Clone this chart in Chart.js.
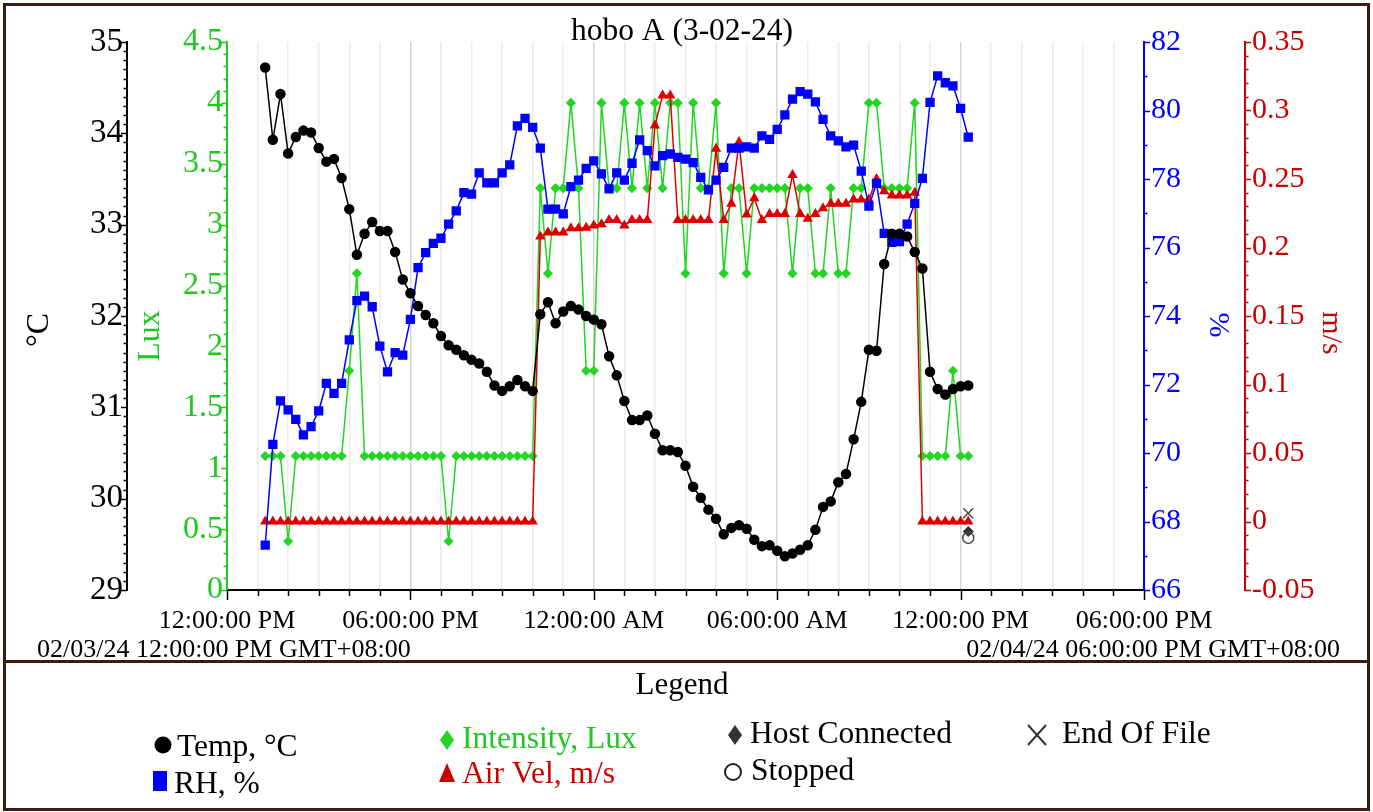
<!DOCTYPE html>
<html>
<head>
<meta charset="utf-8">
<title>hobo A (3-02-24)</title>
<script src="https://cdn.jsdelivr.net/npm/chart.js@4.4.1/dist/chart.umd.min.js"></script>
<style>
  html, body { margin: 0; padding: 0; background: #fff; }
  canvas { display: block; }
</style>
</head>
<body>
<canvas id="hoboChart" width="1373" height="812"></canvas>
<script>
// logger readings, 15 min interval, 02/03/24 13:15 -> 02/04/24 12:15
const times = [
  '13:15','13:30','13:45','14:00','14:15','14:30','14:45','15:00','15:15','15:30','15:45','16:00',
  '16:15','16:30','16:45','17:00','17:15','17:30','17:45','18:00','18:15','18:30','18:45','19:00',
  '19:15','19:30','19:45','20:00','20:15','20:30','20:45','21:00','21:15','21:30','21:45','22:00',
  '22:15','22:30','22:45','23:00','23:15','23:30','23:45','00:00','00:15','00:30','00:45','01:00',
  '01:15','01:30','01:45','02:00','02:15','02:30','02:45','03:00','03:15','03:30','03:45','04:00',
  '04:15','04:30','04:45','05:00','05:15','05:30','05:45','06:00','06:15','06:30','06:45','07:00',
  '07:15','07:30','07:45','08:00','08:15','08:30','08:45','09:00','09:15','09:30','09:45','10:00',
  '10:15','10:30','10:45','11:00','11:15','11:30','11:45','12:00','12:15'
];

const temp = [
  34.72, 33.93, 34.43, 33.78, 33.96, 34.03, 34.01, 33.84, 33.69, 33.72, 33.51, 33.17,
  32.67, 32.90, 33.03, 32.93, 32.93, 32.70, 32.40, 32.25, 32.11, 32.01, 31.92, 31.78,
  31.68, 31.63, 31.57, 31.52, 31.48, 31.39, 31.24, 31.18, 31.23, 31.30, 31.23, 31.18,
  32.02, 32.15, 31.92, 32.05, 32.11, 32.07, 32.00, 31.96, 31.91, 31.56, 31.35, 31.07,
  30.86, 30.86, 30.91, 30.71, 30.53, 30.53, 30.51, 30.36, 30.13, 30.01, 29.88, 29.78,
  29.61, 29.68, 29.71, 29.67, 29.55, 29.48, 29.49, 29.43, 29.37, 29.40, 29.44, 29.49,
  29.66, 29.91, 29.97, 30.18, 30.27, 30.65, 31.06, 31.63, 31.62, 32.57, 32.90, 32.90,
  32.87, 32.70, 32.52, 31.39, 31.20, 31.14, 31.20, 31.23, 31.24
];

const rh = [
  67.31, 70.25, 71.52, 71.26, 70.98, 70.53, 70.77, 71.23, 72.03, 71.74, 72.03, 73.30,
  74.45, 74.58, 74.27, 73.12, 72.37, 72.93, 72.86, 73.90, 75.41, 75.85, 76.12, 76.27,
  76.68, 77.07, 77.60, 77.56, 78.18, 77.89, 77.89, 78.18, 78.41, 79.55, 79.77, 79.51,
  78.90, 77.12, 77.12, 76.98, 77.78, 77.97, 78.31, 78.53, 78.15, 77.71, 78.18, 77.97,
  78.46, 79.14, 78.83, 78.38, 78.68, 78.73, 78.63, 78.58, 78.48, 78.05, 77.68, 77.97,
  78.34, 78.90, 78.90, 78.94, 78.90, 79.26, 79.16, 79.45, 79.87, 80.33, 80.55, 80.48,
  80.25, 79.74, 79.26, 79.11, 78.94, 78.99, 78.23, 77.21, 77.87, 76.41, 76.15, 76.17,
  76.68, 77.29, 78.02, 80.24, 81.01, 80.81, 80.72, 80.06, 79.22
];

const lux = [
  1.1, 1.1, 1.1, 0.4, 1.1, 1.1, 1.1, 1.1, 1.1, 1.1, 1.1, 1.8,
  2.6, 1.1, 1.1, 1.1, 1.1, 1.1, 1.1, 1.1, 1.1, 1.1, 1.1, 1.1,
  0.4, 1.1, 1.1, 1.1, 1.1, 1.1, 1.1, 1.1, 1.1, 1.1, 1.1, 1.1,
  3.3, 2.6, 3.3, 3.3, 4.0, 3.3, 1.8, 1.8, 4.0, 3.3, 3.3, 4.0,
  3.3, 4.0, 3.3, 4.0, 3.3, 4.0, 4.0, 2.6, 4.0, 3.3, 3.3, 4.0,
  2.6, 3.3, 3.3, 2.6, 3.3, 3.3, 3.3, 3.3, 3.3, 2.6, 3.3, 3.3,
  2.6, 2.6, 3.3, 2.6, 2.6, 3.3, 3.3, 4.0, 4.0, 3.3, 3.3, 3.3,
  3.3, 4.0, 1.1, 1.1, 1.1, 1.1, 1.8, 1.1, 1.1
];

const airVel = [
  0, 0, 0, 0, 0, 0, 0, 0, 0, 0, 0, 0,
  0, 0, 0, 0, 0, 0, 0, 0, 0, 0, 0, 0,
  0, 0, 0, 0, 0, 0, 0, 0, 0, 0, 0, 0,
  0.208, 0.211, 0.211, 0.211, 0.214, 0.214, 0.2145, 0.216, 0.217, 0.220, 0.220, 0.216,
  0.220, 0.220, 0.220, 0.289, 0.311, 0.311, 0.220, 0.220, 0.220, 0.220, 0.220, 0.272,
  0.220, 0.232, 0.277, 0.224, 0.236, 0.220, 0.2245, 0.2245, 0.2245, 0.253, 0.2245, 0.221,
  0.2245, 0.2286, 0.232, 0.232, 0.232, 0.235, 0.235, 0.235, 0.250, 0.241, 0.238, 0.238,
  0.238, 0.240, 0, 0, 0, 0, 0, 0, 0
];

// events at the end of the file, plotted against the °C axis
const hostConnected = [29.64];
const stopped = [29.57];
const endOfFile = [29.84];

const tempTicks = [29, 30, 31, 32, 33, 34, 35];
const luxTicks = [0, 0.5, 1, 1.5, 2, 2.5, 3, 3.5, 4, 4.5];
const rhTicks = [66, 68, 70, 72, 74, 76, 78, 80, 82];
const velTicks = [-0.05, 0, 0.05, 0.1, 0.15, 0.2, 0.25, 0.3, 0.35];
const xTickLabels = ['12:00:00 PM', '06:00:00 PM', '12:00:00 AM', '06:00:00 AM', '12:00:00 PM', '06:00:00 PM'];

const COLORS = {
  temp: '#000000',
  rh: '#0000ff',
  lux: '#22d622',
  luxAxis: '#1ec81e',
  vel: '#dd0000',
  velAxis: '#cc0000',
  frame: '#3a1c12'
};

// hours since 02/03/24 12:00 PM
const hours = [];
let dayOffset = 0, prevClock = -1;
times.forEach(t => {
  const [h, m] = t.split(':').map(Number);
  const clock = h + m / 60;
  if (clock < prevClock) dayOffset += 24;
  prevClock = clock;
  hours.push(clock + dayOffset - 12);
});
const lastHour = hours[hours.length - 1];

const toPoints = values => values.map((y, i) => ({ x: hours[i], y }));

Chart.defaults.font.family = '"Liberation Serif", "Times New Roman", serif';
Chart.defaults.color = '#000';

const yAxis = (position, weight, min, max, tickValues, color, size, width) => ({
  type: 'linear',
  position,
  weight,
  min,
  max,
  grid: { display: false, drawTicks: false },
  border: { display: true, color, width: 2 },
  ticks: {
    color,
    font: { size },
    padding: position === 'left' ? 4 : 7,
    callback: v => String(v)
  },
  afterBuildTicks: s => { s.ticks = tickValues.map(value => ({ value })); },
  afterFit: s => {
    s.width = width;
    s.paddingTop = 0;
    s.paddingBottom = 0;
  }
});

// minor / major tick marks, axis titles, title, footer, legend and frame
const hoboDecor = {
  id: 'hoboDecor',
  beforeDraw(chart) {
    const { ctx, width, height } = chart;
    ctx.save();
    ctx.fillStyle = '#fff';
    ctx.fillRect(0, 0, width, height);
    ctx.restore();
  },
  afterDraw(chart) {
    const { ctx, scales } = chart;
    ctx.save();

    const yMarks = (scale, minorStep, majors, color, side) => {
      const x0 = side === 'left' ? scale.right : scale.left;
      const dir = side === 'left' ? -1 : 1;
      const n = Math.round((scale.max - scale.min) / minorStep);
      ctx.strokeStyle = color;
      ctx.lineWidth = 1.5;
      for (let i = 0; i <= n; i++) {
        const v = scale.min + i * minorStep;
        const isMajor = majors.some(m => Math.abs(m - v) < minorStep / 10);
        const y = Math.round(scale.getPixelForValue(v)) + 0.5;
        ctx.beginPath();
        ctx.moveTo(x0, y);
        ctx.lineTo(x0 + dir * (isMajor ? 6 : 3.5), y);
        ctx.stroke();
      }
    };
    yMarks(scales.temp, 0.1, tempTicks, COLORS.temp, 'left');
    yMarks(scales.lux, 0.1, luxTicks, COLORS.luxAxis, 'left');
    yMarks(scales.rh, 1, rhTicks, COLORS.rh, 'right');
    yMarks(scales.vel, 0.01, velTicks, COLORS.velAxis, 'right');

    const xs = scales.x;
    ctx.strokeStyle = '#000';
    ctx.lineWidth = 1.5;
    for (let h = xs.min; h <= xs.max; h++) {
      const x = Math.round(xs.getPixelForValue(h)) + 0.5;
      ctx.beginPath();
      ctx.moveTo(x, xs.top);
      ctx.lineTo(x, xs.top + (h % 6 === 0 ? 10 : 6));
      ctx.stroke();
    }

    const font = size => `${size}px "Liberation Serif", "Times New Roman", serif`;
    const text = (str, x, y, size, color, align, rot) => {
      ctx.save();
      ctx.translate(x, y);
      if (rot) ctx.rotate(rot);
      ctx.font = font(size);
      ctx.fillStyle = color;
      ctx.textAlign = align || 'left';
      ctx.textBaseline = 'middle';
      ctx.fillText(str, 0, 0);
      ctx.restore();
    };

    // axis titles
    text('°C', 40, 330, 32, COLORS.temp, 'center', -Math.PI / 2);
    text('Lux', 151, 336, 32, COLORS.luxAxis, 'center', -Math.PI / 2);
    text('%', 1218, 325, 30, COLORS.rh, 'center', Math.PI / 2);
    text('m/s', 1331, 333, 30, COLORS.velAxis, 'center', Math.PI / 2);

    // chart title and date range
    text('hobo A (3-02-24)', 682, 32, 31.5, '#000', 'center');
    text('02/03/24 12:00:00 PM GMT+08:00', 37, 650, 26, '#000', 'left');
    text('02/04/24 06:00:00 PM GMT+08:00', 1340, 650, 26, '#000', 'right');

    // frame
    ctx.strokeStyle = COLORS.frame;
    ctx.lineWidth = 3;
    ctx.strokeRect(4.5, 4.5, 1364, 805);
    ctx.beginPath();
    ctx.moveTo(4, 661.5);
    ctx.lineTo(1369, 661.5);
    ctx.stroke();

    // legend
    text('Legend', 682, 686, 31, '#000', 'center');
    const mark = (shape, x, y, color) => {
      ctx.fillStyle = color;
      ctx.strokeStyle = color;
      ctx.lineWidth = 2;
      ctx.beginPath();
      if (shape === 'circle') {
        ctx.arc(x, y, 8.5, 0, Math.PI * 2);
        ctx.fill();
      } else if (shape === 'ring') {
        ctx.arc(x, y, 8, 0, Math.PI * 2);
        ctx.stroke();
      } else if (shape === 'rect') {
        ctx.fillRect(x - 7, y - 10, 14, 20);
      } else if (shape === 'diamond') {
        ctx.moveTo(x, y - 10);
        ctx.lineTo(x + 7, y);
        ctx.lineTo(x, y + 10);
        ctx.lineTo(x - 7, y);
        ctx.closePath();
        ctx.fill();
      } else if (shape === 'triangle') {
        ctx.moveTo(x, y - 10);
        ctx.lineTo(x + 8, y + 9);
        ctx.lineTo(x - 8, y + 9);
        ctx.closePath();
        ctx.fill();
      } else if (shape === 'cross') {
        ctx.moveTo(x - 9, y - 10);
        ctx.lineTo(x + 9, y + 10);
        ctx.moveTo(x + 9, y - 10);
        ctx.lineTo(x - 9, y + 10);
        ctx.stroke();
      }
    };
    mark('circle', 163, 745, '#000');
    text('Temp, °C', 177, 748, 31.5, '#000');
    mark('rect', 160, 781, COLORS.rh);
    text('RH, %', 174, 785, 31.5, '#000');
    mark('diamond', 447, 740, COLORS.lux);
    text('Intensity, Lux', 462, 740, 31.5, COLORS.luxAxis);
    mark('triangle', 447, 773, COLORS.velAxis);
    text('Air Vel, m/s', 462, 775, 31.5, COLORS.velAxis);
    mark('diamond', 735, 735, '#333');
    text('Host Connected', 750, 735, 31.5, '#000');
    mark('ring', 733, 772, '#222');
    text('Stopped', 751, 772, 31.5, '#000');
    mark('cross', 1037, 735, '#333');
    text('End Of File', 1062, 735, 31.5, '#000');

    ctx.restore();
  }
};

new Chart(document.getElementById('hoboChart'), {
  type: 'line',
  data: {
    datasets: [
      {
        label: 'End Of File',
        data: [{ x: lastHour, y: endOfFile[0] }],
        yAxisID: 'temp',
        showLine: false,
        pointStyle: 'crossRot',
        pointRadius: 7,
        borderColor: '#444',
        borderWidth: 1.5
      },
      {
        label: 'Stopped',
        data: [{ x: lastHour, y: stopped[0] }],
        yAxisID: 'temp',
        showLine: false,
        pointStyle: 'circle',
        pointRadius: 5.5,
        borderColor: '#444',
        backgroundColor: 'rgba(255,255,255,0)',
        borderWidth: 1.5
      },
      {
        label: 'Host Connected',
        data: [{ x: lastHour, y: hostConnected[0] }],
        yAxisID: 'temp',
        showLine: false,
        pointStyle: 'rectRot',
        pointRadius: 5,
        borderColor: '#333',
        backgroundColor: '#333',
        borderWidth: 1
      },
      {
        label: 'Temp, °C',
        data: toPoints(temp),
        yAxisID: 'temp',
        borderColor: COLORS.temp,
        backgroundColor: COLORS.temp,
        borderWidth: 1.5,
        pointStyle: 'circle',
        pointRadius: 4.5
      },
      {
        label: 'RH, %',
        data: toPoints(rh),
        yAxisID: 'rh',
        borderColor: COLORS.rh,
        backgroundColor: COLORS.rh,
        borderWidth: 1.5,
        pointStyle: 'rect',
        pointRadius: 5.5
      },
      {
        label: 'Air Vel, m/s',
        data: toPoints(airVel),
        yAxisID: 'vel',
        borderColor: COLORS.vel,
        backgroundColor: COLORS.vel,
        borderWidth: 1.5,
        pointStyle: 'triangle',
        pointRadius: 4.5
      },
      {
        label: 'Intensity, Lux',
        data: toPoints(lux),
        yAxisID: 'lux',
        borderColor: COLORS.lux,
        backgroundColor: COLORS.lux,
        borderWidth: 1.5,
        pointStyle: 'rectRot',
        pointRadius: 4
      }
    ]
  },
  options: {
    responsive: false,
    animation: false,
    events: [],
    layout: { padding: { top: 42, left: 20, right: 24, bottom: 182 } },
    plugins: {
      legend: { display: false },
      tooltip: { enabled: false },
      title: { display: false }
    },
    elements: { line: { tension: 0 } },
    scales: {
      x: {
        type: 'linear',
        position: 'bottom',
        min: 0,
        max: 30,
        grid: {
          drawTicks: false,
          color: c => (c.tick && c.tick.value % 6 === 0 ? '#d6d6d6' : '#ececec'),
          lineWidth: 1.5
        },
        border: { display: true, color: '#000', width: 2 },
        ticks: {
          autoSkip: false,
          maxRotation: 0,
          padding: 16,
          font: { size: 26 },
          callback: v => (v % 6 === 0 ? xTickLabels[v / 6] : '')
        },
        afterBuildTicks: s => {
          const ticks = [];
          for (let h = 0; h <= 30; h++) ticks.push({ value: h });
          s.ticks = ticks;
        },
        afterFit: s => {
          s.height = 40;
          s.paddingLeft = 0;
          s.paddingRight = 0;
        }
      },
      temp: yAxis('left', 1, 29, 35, tempTicks, COLORS.temp, 33, 107),
      lux: yAxis('left', 0, 0, 4.5, luxTicks, COLORS.luxAxis, 32, 100),
      rh: yAxis('right', 0, 66, 82, rhTicks, COLORS.rh, 30, 101),
      vel: yAxis('right', 1, -0.05, 0.35, velTicks, COLORS.velAxis, 30, 104)
    }
  },
  plugins: [hoboDecor]
});
</script>
</body>
</html>
